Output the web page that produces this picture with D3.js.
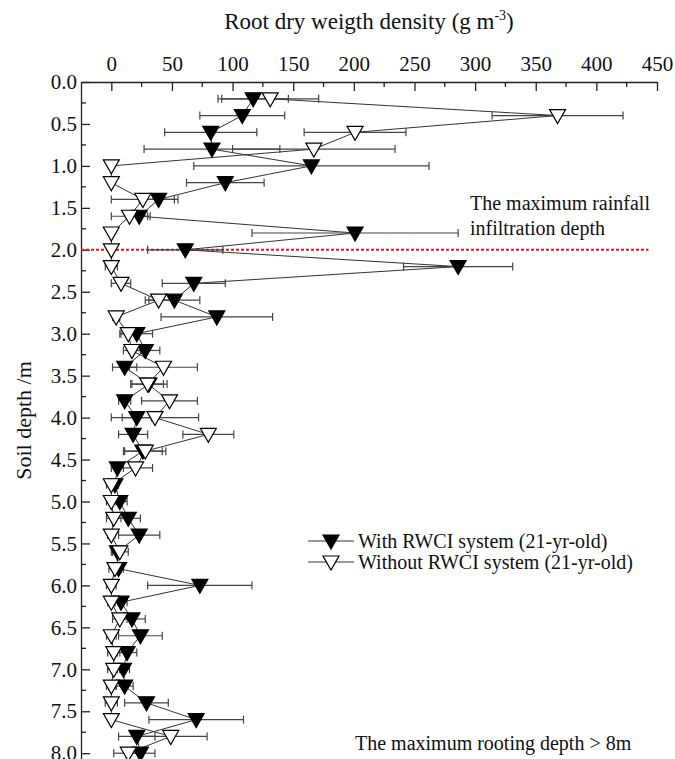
<!DOCTYPE html>
<meta charset="utf-8">
<style type="text/css">
    body{
        margin: 0;
        background: #fff;
    }
    svg{
      display: block;
    }
    text{
      font-family: "Liberation Serif", "Times New Roman", serif;
      fill: #111;
    }
    .axis path, .axis line{
      stroke: #222;
      stroke-width: 1.3px;
    }
    .axis text{
      font-size: 21px;
    }
</style>
<body>
<script src="https://cdn.jsdelivr.net/npm/d3@7"></script>
<script>

//soil depths (m)
var depths = [0.2, 0.4, 0.6, 0.8, 1.0, 1.2, 1.4, 1.6, 1.8, 2.0,
              2.2, 2.4, 2.6, 2.8, 3.0, 3.2, 3.4, 3.6, 3.8, 4.0,
              4.2, 4.4, 4.6, 4.8, 5.0, 5.2, 5.4, 5.6, 5.8, 6.0,
              6.2, 6.4, 6.6, 6.8, 7.0, 7.2, 7.4, 7.6, 7.8, 8.0];

//with RWCI system (filled triangles)
var withVals = [117, 108, 82, 83, 165, 94, 39, 23, 201, 61,
                286, 68, 52, 87, 21, 28, 11, 31, 11, 21,
                18, 26, 5, 3, 7, 14, 23, 5, 6, 73,
                8, 17, 24, 13, 10, 11, 29, 70, 21, 24];
var withErr  = [29, 35, 38, 56, 97, 32, 16, 9, 85, 31,
                45, 26, 21, 46, 13, 12, 10, 15, 5, 12,
                12, 16, 5, 3, 6, 10, 17, 4, 4, 43,
                5, 11, 18, 8, 5, 7, 18, 39, 15, 12];

//without RWCI system (open triangles)
var withoutVals = [131, 368, 201, 167, 0, 0, 26, 15, 0, 0,
                   0, 8, 39, 4, 14, 17, 43, 30, 48, 36,
                   80, 28, 20, 0, 0, 2, 0, 7, 3, 0,
                   0, 7, 0, 2, 2, 0, 0, 0, 49, 14];
var withoutErr  = [40, 54, 42, 67, 0, 0, 26, 15, 0, 0,
                   5, 8, 11, 3, 7, 7, 28, 13, 23, 36,
                   21, 17, 14, 4, 4, 6, 3, 7, 5, 4,
                   3, 6, 4, 5, 5, 4, 5, 0, 30, 12];

//tick values
var xTicks = [0, 50, 100, 150, 200, 250, 300, 350, 400, 450];
var yTicks = [0.0, 0.5, 1.0, 1.5, 2.0, 2.5, 3.0, 3.5, 4.0, 4.5, 5.0, 5.5, 6.0, 6.5, 7.0, 7.5, 8.0];

var seriesNames = ["With RWCI system (21-yr-old)", "Without RWCI system (21-yr-old)"];
var rainfallDepth = 2.0;

var width = 675, height = 759;

var svg = d3.select("body")
  .append("svg")
  .attr("width", width)
  .attr("height", height);

var x = d3.scaleLinear().domain([-25, 450]).range([81, 657]);
var y = d3.scaleLinear().domain([0, 8.1]).range([82, 761.6]);

//minor ticks
var xMinor = d3.range(25, 450, 50);
var yMinor = d3.range(0.25, 8.1, 0.5);

svg.append("g")
  .attr("class", "axis")
  .selectAll("line.minx")
  .data(xMinor)
  .enter().append("line")
  .attr("x1", function(d){ return x(d); })
  .attr("x2", function(d){ return x(d); })
  .attr("y1", y(0))
  .attr("y2", y(0) + 5);

svg.append("g")
  .attr("class", "axis")
  .selectAll("line.miny")
  .data(yMinor)
  .enter().append("line")
  .attr("x1", x(-25))
  .attr("x2", x(-25) + 5)
  .attr("y1", function(d){ return y(d); })
  .attr("y2", function(d){ return y(d); });

//top axis
svg.append("g")
  .attr("class", "axis")
  .attr("transform", "translate(0," + y(0) + ")")
  .call(d3.axisTop(x).tickValues(xTicks).tickSize(-9).tickSizeOuter(0).tickPadding(11));

//left axis
svg.append("g")
  .attr("class", "axis")
  .attr("transform", "translate(" + x(-25) + ",0)")
  .call(d3.axisLeft(y).tickValues(yTicks).tickFormat(d3.format(".1f")).tickSize(-9).tickSizeOuter(0).tickPadding(4));

//axis titles
var title = svg.append("text")
  .attr("x", (x(-25) + x(450)) / 2)
  .attr("y", 29)
  .attr("text-anchor", "middle")
  .style("font-size", "23px")
  .text("Root dry weigth density (g m");
title.append("tspan").attr("dy", -9).style("font-size", "14px").text("-3");
title.append("tspan").attr("dy", 9).text(")");

svg.append("text")
  .attr("transform", "translate(31," + ((y(0) + height) / 2) + ") rotate(-90)")
  .attr("text-anchor", "middle")
  .style("font-size", "22px")
  .text("Soil depth /m");

//rainfall infiltration line
svg.append("line")
  .attr("x1", x(-25))
  .attr("x2", x(443))
  .attr("y1", y(rainfallDepth))
  .attr("y2", y(rainfallDepth))
  .attr("stroke", "#e8141b")
  .attr("stroke-width", 2)
  .attr("stroke-dasharray", "3 2");

//build series
var series = [
  {name: seriesNames[0], vals: withVals, err: withErr, fill: "#000"},
  {name: seriesNames[1], vals: withoutVals, err: withoutErr, fill: "#fff"}
];
series.forEach(function(s){
  s.points = depths.map(function(d, i){ return {depth: d, v: s.vals[i], e: s.err[i]}; });
});

var line = d3.line()
  .x(function(d){ return x(d.v); })
  .y(function(d){ return y(d.depth); });

var tri = "M-8,-6L8,-6L0,8Z";

series.forEach(function(s){
  svg.append("path")
    .datum(s.points)
    .attr("d", line)
    .attr("fill", "none")
    .attr("stroke", "#333")
    .attr("stroke-width", 1);
});

series.forEach(function(s){
  var eb = svg.append("g")
    .attr("stroke", "#444")
    .attr("stroke-width", 1.2);

  var bars = eb.selectAll("g")
    .data(s.points.filter(function(p){ return p.e > 0; }))
    .enter().append("g");

  bars.append("line")
    .attr("x1", function(p){ return x(p.v - p.e); })
    .attr("x2", function(p){ return x(p.v + p.e); })
    .attr("y1", function(p){ return y(p.depth); })
    .attr("y2", function(p){ return y(p.depth); });

  bars.selectAll("line.cap")
    .data(function(p){ return [p.v - p.e, p.v + p.e].map(function(v){ return {v: v, depth: p.depth}; }); })
    .enter().append("line")
    .attr("x1", function(c){ return x(c.v); })
    .attr("x2", function(c){ return x(c.v); })
    .attr("y1", function(c){ return y(c.depth) - 4; })
    .attr("y2", function(c){ return y(c.depth) + 4; });
});

series.forEach(function(s){
  svg.append("g").selectAll("path")
    .data(s.points)
    .enter().append("path")
    .attr("d", tri)
    .attr("transform", function(p){ return "translate(" + x(p.v) + "," + y(p.depth) + ")"; })
    .attr("fill", s.fill)
    .attr("stroke", "#000")
    .attr("stroke-width", 1.2);
});

//legend
var legend = svg.append("g")
  .selectAll("g")
  .data(series)
  .enter().append("g")
  .attr("transform", function(d, i){ return "translate(308," + (541 + i * 21) + ")"; });

legend.append("line")
  .attr("x1", 0).attr("x2", 46)
  .attr("stroke", "#333").attr("stroke-width", 1);

legend.append("path")
  .attr("d", tri)
  .attr("transform", "translate(23,0)")
  .attr("fill", function(d){ return d.fill; })
  .attr("stroke", "#000")
  .attr("stroke-width", 1.2);

legend.append("text")
  .attr("x", 50)
  .attr("y", 7)
  .style("font-size", "20px")
  .text(function(d){ return d.name; });

//annotations
svg.append("text")
  .attr("x", 470).attr("y", 210)
  .style("font-size", "20px")
  .text("The maximum rainfall");
svg.append("text")
  .attr("x", 470).attr("y", 235)
  .style("font-size", "20px")
  .text("infiltration depth");

svg.append("text")
  .attr("x", 355).attr("y", 750)
  .style("font-size", "20px")
  .text("The maximum rooting depth > 8m");

</script>
</body>
